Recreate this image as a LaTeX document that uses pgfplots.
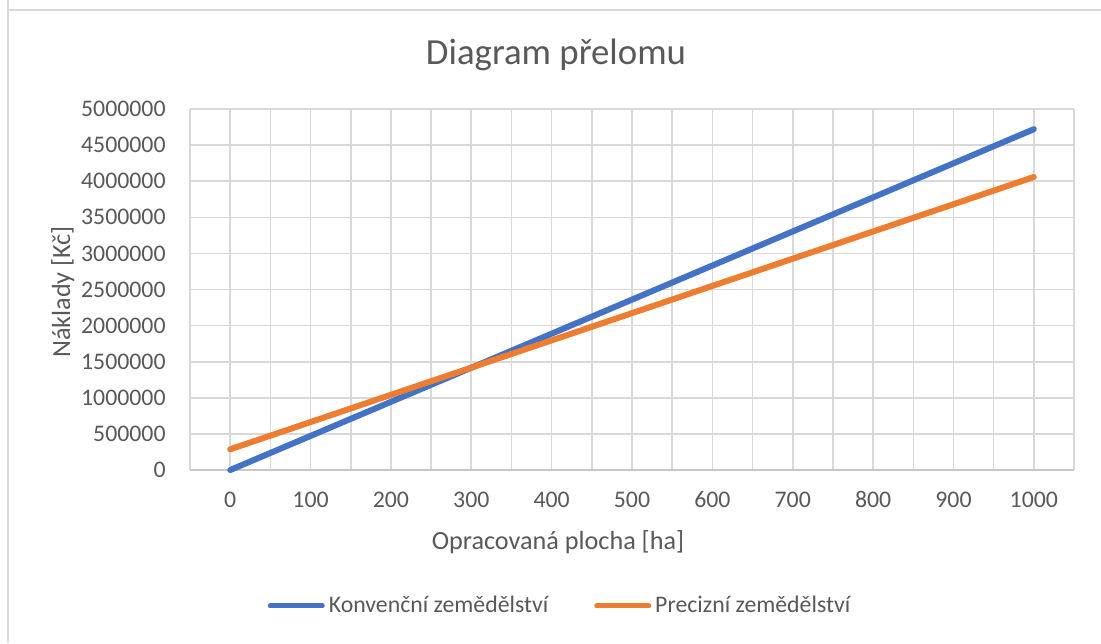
\documentclass[border=0pt]{standalone}
\usepackage{fontspec}
\setmainfont{Carlito}
\usepackage{pgfplots}
\pgfplotsset{compat=1.18}
\definecolor{cblue}{HTML}{4472C4}
\definecolor{corange}{HTML}{ED7D31}
\definecolor{cgrid}{HTML}{D9D9D9}
\definecolor{ctext}{HTML}{595959}
\begin{document}
\begin{tikzpicture}[x=1bp,y=1bp]
\useasboundingbox (0,0) rectangle (550.5,321.5);
\fill[white] (0,0) rectangle (550.5,321.5);
\draw[cgrid,line width=1bp] (4,321.5) -- (4,316.5) -- (550.5,316.5);
\draw[cgrid,line width=1bp] (4,316.5) -- (4,0);
\begin{axis}[
  at={(95bp,86.5bp)}, anchor=south west,
  scale only axis, width=442bp, height=180.5bp,
  xmin=-50, xmax=1050, ymin=0, ymax=5000000,
  xtick={0,100,...,1000},
  minor xtick={-50,50,...,1050},
  ytick={0,500000,...,5000000},
  xmajorgrids, xminorgrids, ymajorgrids,
  grid style={cgrid,line width=0.8bp},
  minor grid style={cgrid,line width=0.8bp},
  major tick length=0pt, minor tick length=0pt,
  axis line style={draw=none},
  scaled y ticks=false,
  /pgf/number format/.cd, fixed, 1000 sep={}, assume math mode=true,
  /pgfplots/.cd,
  tick label style={font=\fontsize{11.9bp}{14bp}\selectfont, text=ctext, inner sep=0pt},
  xticklabel style={anchor=base, yshift=-18.5bp},
  yticklabel style={anchor=east, xshift=-12bp},
  legend style={at={(0.4197,-0.3767)}, anchor=center, draw=none, fill=none,
    font=\fontsize{11.9bp}{14bp}\selectfont, text=ctext,
    legend columns=2,
    /tikz/every even column/.append style={column sep=21bp},
    cells={anchor=west, inner sep=1bp}},
  legend image code/.code={\draw[#1,line width=2.5bp,line cap=round] (0bp,0bp) -- (26bp,0bp);},
  clip=false,
]
\draw[cgrid!80!gray,line width=0.9bp] (axis cs:-50,0) -- (axis cs:1050,0);
\addplot[cblue, line width=3bp, line cap=round] coordinates {(0,0) (1000,4720000)};
\addlegendentry{Konvenční zemědělství}
\addplot[corange, line width=3bp, line cap=round] coordinates {(0,287000) (1000,4058000)};
\addlegendentry{Precizní zemědělství}
\end{axis}
\node[anchor=base, text=ctext, font=\fontsize{18.4bp}{22bp}\selectfont] at (278,289.5) {Diagram přelomu};
\node[anchor=base, text=ctext, font=\fontsize{13.1bp}{16bp}\selectfont] at (279,47) {Opracovaná plocha [ha]};
\node[anchor=base, rotate=90, text=ctext, font=\fontsize{13.1bp}{16bp}\selectfont] at (35,175.5) {Náklady [Kč]};
\end{tikzpicture}
\end{document}
